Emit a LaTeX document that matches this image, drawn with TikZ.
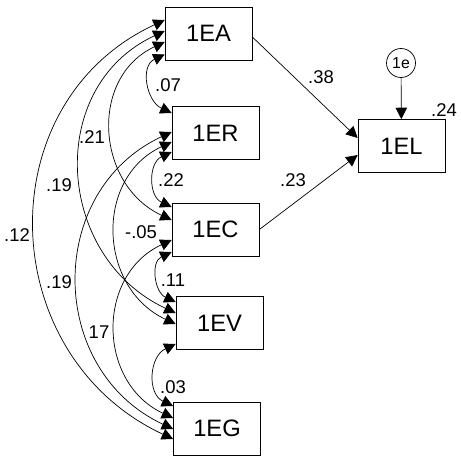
\documentclass[tikz,border=0pt]{standalone}
\usepackage{fontspec}
\setmainfont{Liberation Sans}
\usetikzlibrary{arrows.meta}
\begin{document}
\begin{tikzpicture}[var/.style={rectangle, draw, minimum width=1.74cm, minimum height=1.06cm, inner sep=0pt, font=\fontsize{13.5}{13.5}\selectfont}, err/.style={circle, draw, minimum size=0.58cm, inner sep=0pt, font=\fontsize{9}{9}\selectfont}, lab/.style={inner sep=1pt, font=\fontsize{10.5}{10.5}\selectfont}, cov/.style={<->, out=205, in=155, looseness=1.2}, >={Triangle[length=6.5pt, width=6.5pt]}, thin]
        \useasboundingbox (0, 0) rectangle (9.22, 9.2);
        \node[var] (EA) at (4.17, 8.53) {1EA};
        \node[var] (ER) at (4.31, 6.54) {1ER};
        \node[var] (EC) at (4.31, 4.61) {1EC};
        \node[var] (EV) at (4.39, 2.74) {1EV};
        \node[var] (EG) at (4.34, 0.63) {1EG};
        \node[var] (EL) at (8.03, 6.28) {1EL};
        \node[err] (e) at (8.02, 7.94) {1e};
        % paths to 1EL
        \draw[->] ([yshift=-0.07cm]EA.east) -- ([yshift=0.16cm]EL.west);
        \draw[->] (EC.east) -- ([yshift=-0.18cm]EL.west);
        \draw[->] (e) -- (EL);
        % covariances
        \draw[cov] ([yshift=-0.42cm]EA.west) to ([yshift=0.4cm]ER.west);
        \draw[cov] ([yshift=-0.17cm]EA.west) to ([yshift=0.19cm]EC.west);
        \draw[cov] ([yshift=0.05cm]EA.west) to ([yshift=0.2cm]EV.west);
        \draw[cov] ([yshift=0.27cm]EA.west) to ([yshift=-0.21cm]EG.west);
        \draw[cov] ([yshift=-0.38cm]ER.west) to ([yshift=0.45cm]EC.west);
        \draw[cov] ([yshift=-0.18cm]ER.west) to ([yshift=-0.02cm]EV.west);
        \draw[cov] ([yshift=0.02cm]ER.west) to ([yshift=-0.01cm]EG.west);
        \draw[cov] ([yshift=-0.45cm]EC.west) to ([yshift=0.42cm]EV.west);
        \draw[cov] ([yshift=-0.21cm]EC.west) to ([yshift=0.21cm]EG.west);
        \draw[cov] ([yshift=-0.42cm]EV.west) to ([yshift=0.45cm]EG.west);
        % estimates
        \node[lab] (r1) at (3.36, 7.5) {.07};
        \node[lab] (r2) at (1.84, 6.46) {.21};
        \node[lab] (r3) at (1.18, 5.5) {.19};
        \node[lab] (r4) at (0.34, 4.5) {.12};
        \node[lab] (r5) at (3.42, 5.6) {.22};
        \node[lab] (r6) at (2.82, 4.56) {-.05};
        \node[lab] (r7) at (1.18, 3.56) {.19};
        \node[lab] (r8) at (3.46, 3.6) {.11};
        \node[lab] (r9) at (1.98, 2.56) {17};
        \node[lab] (r10) at (3.46, 1.46) {.03};
        \node[lab] (b1) at (6.42, 7.66) {.38};
        \node[lab] (b2) at (5.86, 5.6) {.23};
        \node[lab] (sq) at (8.88, 7.0) {.24};
    \end{tikzpicture}
\end{document}
